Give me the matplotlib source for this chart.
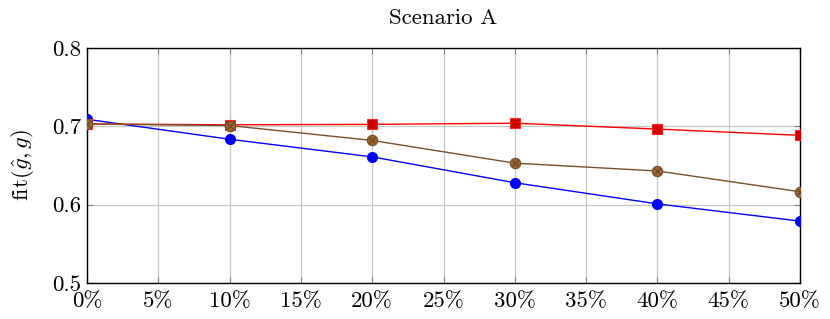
import matplotlib
matplotlib.use("Agg")
import matplotlib.pyplot as plt
from matplotlib.ticker import FuncFormatter

x_pct = [0, 10, 20, 30, 40, 50]
blue_vals = [0.709, 0.6835, 0.661, 0.628, 0.601, 0.579]
brown_vals = [0.703, 0.701, 0.682, 0.653, 0.643, 0.6165]
red_vals = [0.703, 0.702, 0.7025, 0.704, 0.6965, 0.6885]
x_ticks = [0, 5, 10, 15, 20, 25, 30, 35, 40, 45, 50]
y_ticks = [0.5, 0.6, 0.7, 0.8]
title = "Scenario A"

plt.rcParams['font.family'] = 'serif'
plt.rcParams['font.serif'] = ['cmr10']
plt.rcParams['mathtext.fontset'] = 'cm'
plt.rcParams['axes.formatter.use_mathtext'] = True

fig = plt.figure(figsize=(8.3, 3.19), dpi=100)
ax = fig.add_axes([87/830, 1-283/319, (800-87)/830, (283-48)/319])

ax.plot(x_pct, blue_vals, color=(0, 0, 1), lw=1.0, marker='o', ms=7,
        mfc=(0, 0, 1), mec=(0, 0, 1), zorder=3)
ax.plot(x_pct, red_vals, color=(1, 0, 0), lw=1.0, marker='s', ms=7.5,
        mfc=(0.82, 0, 0), mec=(1, 0.15, 0.15), mew=0.8, zorder=4)
brown_line = (0.47, 0.31, 0.16)
ax.plot(x_pct, brown_vals, color=brown_line, lw=1.0, marker='o', ms=7.5,
        mfc=(0.6, 0.4, 0.2), mec=(0.45, 0.3, 0.15), mew=0.8, zorder=5)
ax.plot(x_pct, brown_vals, ls='none', marker='x', ms=4.5,
        mec=(0.4, 0.26, 0.12), mew=0.7, zorder=6)

ax.set_xlim(0, 50)
ax.set_ylim(0.5, 0.8)
ax.set_xticks(x_ticks)
ax.set_yticks(y_ticks)
ax.xaxis.set_major_formatter(FuncFormatter(lambda v, p: f"{int(round(v))}%"))
ax.yaxis.set_major_formatter(FuncFormatter(lambda v, p: f"{v:.1f}"))
ax.grid(True, color=(0.78, 0.78, 0.78), lw=0.9)
ax.set_axisbelow(True)
ax.tick_params(axis='both', direction='in', length=4, color=(0.5, 0.5, 0.5),
               labelsize=16.5, top=True, right=True, pad=4)
ax.tick_params(axis='x', pad=6)
for s in ax.spines.values():
    s.set_linewidth(1.0)
    s.set_color('black')

ax.set_ylabel(r"fit$(\hat{g},g)$", fontsize=16.5, labelpad=12)
ax.set_title(title, fontsize=16.5, pad=17)

fig.savefig("out.png", dpi=100)
